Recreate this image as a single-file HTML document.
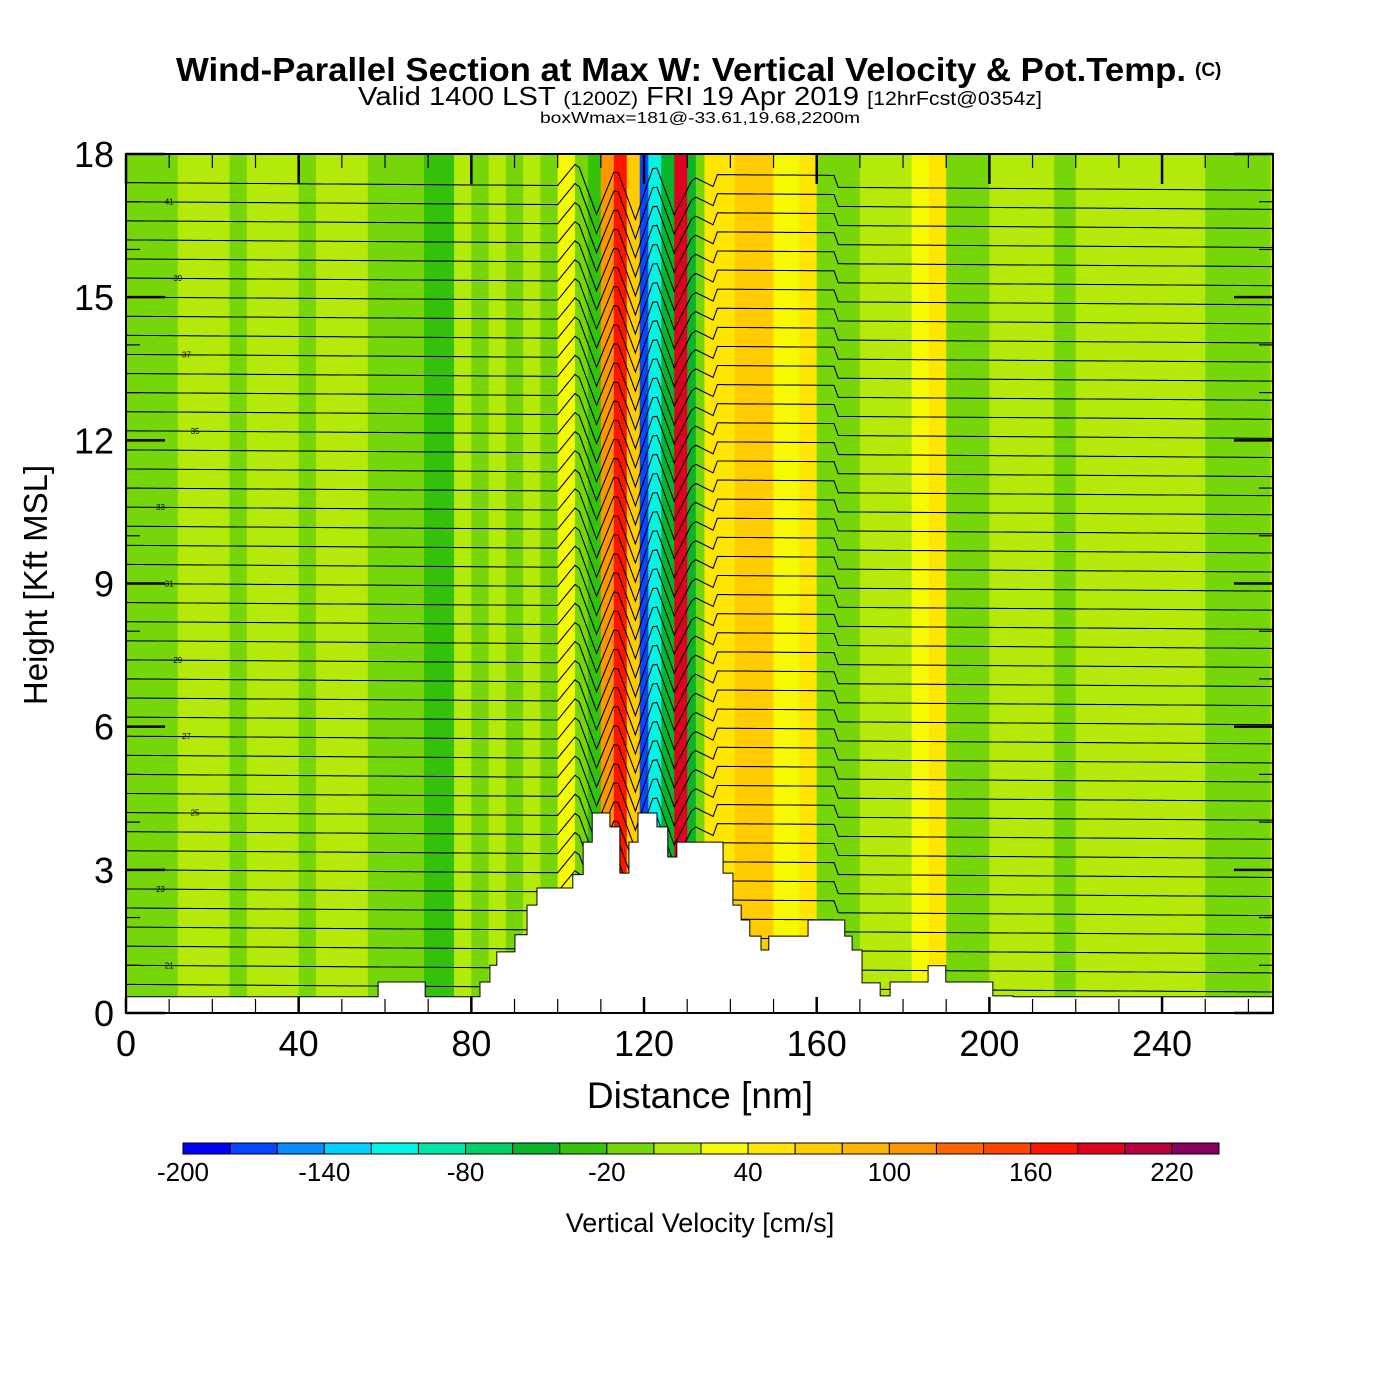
<!DOCTYPE html>
<html><head><meta charset="utf-8"><style>
body{margin:0;background:#fff;width:1400px;height:1400px;overflow:hidden}
svg{display:block}
text{font-family:"Liberation Sans",sans-serif;fill:#000}
</style></head><body>
<svg id="chart" width="1400" height="1400" xmlns="http://www.w3.org/2000/svg">
<text x="176" y="81" textLength="1010" lengthAdjust="spacingAndGlyphs" font-size="33" font-weight="bold">Wind-Parallel Section at Max W: Vertical Velocity &amp; Pot.Temp.</text>
<text x="1195" y="76" font-size="19" font-weight="bold">(C)</text>
<text x="358" y="105" textLength="684" lengthAdjust="spacingAndGlyphs" font-size="26">Valid 1400 LST <tspan font-size="19">(1200Z)</tspan> FRI 19 Apr 2019 <tspan font-size="19">[12hrFcst@0354z]</tspan></text>
<text x="540" y="123" textLength="320" lengthAdjust="spacingAndGlyphs" font-size="16">boxWmax=181@-33.61,19.68,2200m</text>
<defs><clipPath id="plotclip"><rect x="126" y="154" width="1147" height="859"/></clipPath></defs>
<g id="field" clip-path="url(#plotclip)"></g>
<g id="isen" clip-path="url(#plotclip)"></g>
<g id="terrain" clip-path="url(#plotclip)"></g>
<g id="axes"></g>
<g id="cbar"></g>
<text x="700" y="1108" text-anchor="middle" font-size="37">Distance [nm]</text>
<text transform="translate(47,585) rotate(-90)" text-anchor="middle" font-size="33">Height [Kft MSL]</text>
<text x="700" y="1232" text-anchor="middle" font-size="27">Vertical Velocity [cm/s]</text>
</svg>
<script>
// ---- data ----
const bandStart = [0,12,24,28,40,44,56,66,69,76,80,84,88,92,96,100,104,107,110,113,116,119,121,124,127,130,132,134,137,141,145,150,156,160,170,182,186,190,195,200,215,220,240,250,265];
const bandW     = [-5,5,-5,5,-5,5,-5,-5,-25,5,-5,5,-15,5,-5,25,-15,-30,110,170,60,-170,-110,-60,190,-50,-20,40,50,70,60,30,40,-5,5,30,50,-10,-20,5,-5,5,5,-5];
const terrainX = [0,58.4,69.3,82.0,84.3,85.9,90.1,92.9,95.2,97.3,103.5,105.9,108.0,112.1,114.4,116.5,118.6,123.0,125.5,127.6,138.3,140.6,142.5,144.5,147.1,148.9,158.0,166.5,168.2,170.5,174.7,177.0,185.8,189.9,200.8,205.5];
const terrainH = [0.34,0.65,0.34,0.65,1.0,1.28,1.64,2.26,2.62,2.62,2.9,3.58,4.19,3.9,2.93,3.58,4.19,3.9,3.27,3.58,2.93,2.26,1.95,1.61,1.32,1.61,1.95,1.61,1.32,0.63,0.36,0.65,0.99,0.65,0.36,0.34];
const thetaLevels = [];
const thetaHeights = [];
for(let k=0;k<43;k++){thetaLevels.push(20+k*0.5);thetaHeights.push(0.6+k*0.4);}
const cbarTicks = [-200,-140,-80,-20,40,100,160,220];
const colors = ["#0000ff","#0a45ff","#0a8cff","#00d0ff","#00f5e5","#00e6a8","#00d068","#08b428","#34c20a","#76d60a","#b4ea0a","#f5fa00","#ffe600","#ffcc00","#ffb400","#ff9600","#ff6400","#ff4600","#ff1400","#e00020","#b80040","#880060"];
// ---- axes ----
const X0=126,X1=1273,Y0=1013,Y1=154;
const xs = d => X0 + d*(X1-X0)/265.7;
const ys = h => Y0 - h*(Y0-Y1)/18;
const col = v => colors[Math.max(0,Math.min(21,Math.floor((v+200)/20)))];
const NS="http://www.w3.org/2000/svg";
function mk(tag, parent, attrs){const e=document.createElementNS(NS,tag);for(const k in attrs)e.setAttribute(k,attrs[k]);parent.appendChild(e);return e;}
const field=document.getElementById('field');
mk('rect',field,{x:X0,y:Y1,width:X1-X0,height:Y0-Y1,fill:col(5)});
for(let i=0;i<bandW.length;i++){
  const r=mk('rect',field,{x:xs(bandStart[i]),y:Y1,width:xs(bandStart[i+1])-xs(bandStart[i])+0.5,height:Y0-Y1,fill:col(bandW[i])});
  
  
}
// isentropes
const isen=document.getElementById('isen');
function pert(d){
  let p=0;
  if(d>100&&d<136){
    const t=(d-100)/36;
    const zig=[0,0.5,-0.6,0.4,-0.7,0.5,-0.6,0.2,0];
    const f=t*8,i=Math.floor(f),fr=f-i;
    p=zig[i]+(zig[Math.min(8,i+1)]-zig[i])*fr;
  }
  if(d>136&&d<165) p+=0.25;
  return p;
}
thetaLevels.forEach((th,j)=>{
  let pts=[];
  for(let d=0;d<=266;d+=1){
    const h=thetaHeights[j]+pert(d)-0.0006*d;
    pts.push(xs(d).toFixed(1)+','+ys(h).toFixed(1));
  }
  const pl=mk('polyline',isen,{points:pts.join(' '),fill:'none',stroke:'#000','stroke-width':1.1});
  
  
  if(j%4===1){
    const lx=xs(8+(j%5)*2), ly=ys(thetaHeights[j]);
    const lb=mk('text',isen,{x:lx,y:ly+3,'font-size':8,'text-anchor':'middle'});
    lb.textContent=String(Math.round(th));
    
    
  }
});
// terrain
const ter=document.getElementById('terrain');
let tp=[xs(0)+','+Y0];
for(let i=0;i<terrainX.length;i++){
  const x2=i+1<terrainX.length?terrainX[i+1]:266;
  tp.push(xs(terrainX[i])+','+ys(terrainH[i]));
  tp.push(xs(x2)+','+ys(terrainH[i]));
}
tp.push(xs(266)+','+Y0);
const tpoly=mk('polygon',ter,{points:tp.join(' '),fill:'#fff',stroke:'#000','stroke-width':1});


// axes frame & ticks
const ax=document.getElementById('axes');
const fr=mk('rect',ax,{x:X0,y:Y1,width:X1-X0,height:Y0-Y1,fill:'none',stroke:'#000','stroke-width':2});


for(let d=0;d<=265;d+=10){
  const big=d%40===0, L=big?16:14;
  mk('line',ax,{x1:xs(d),x2:xs(d),y1:Y0,y2:Y0-L,stroke:'#000','stroke-width':big?2.5:1.2});
  mk('line',ax,{x1:xs(d),x2:xs(d),y1:Y1,y2:Y1+(big?30:14),stroke:'#000','stroke-width':big?2.5:1.2});
  if(big){const t=mk('text',ax,{x:xs(d),y:1056,'font-size':36,'text-anchor':'middle'});t.textContent=d;
    
    }
}
for(let h=0;h<=18;h+=1){
  const big=h%3===0;
  mk('line',ax,{x1:X0,x2:X0+(big?39:14),y1:ys(h),y2:ys(h),stroke:'#000','stroke-width':big?2.5:1.2});
  mk('line',ax,{x1:X1,x2:X1-(big?39:14),y1:ys(h),y2:ys(h),stroke:'#000','stroke-width':big?2.5:1.2});
  if(big){const t=mk('text',ax,{x:114,y:ys(h)+13,'font-size':36,'text-anchor':'end'});t.textContent=h;
    
    }
}
// colorbar
const cb=document.getElementById('cbar');
const CX0=183,CW=(1219-183)/22;
colors.forEach((c,i)=>{
  const r=mk('rect',cb,{x:CX0+i*CW,y:1143,width:CW,height:11,fill:c,stroke:'#000','stroke-width':1});
  
  
});
cbarTicks.forEach(v=>{
  const t=mk('text',cb,{x:CX0+(v+200)/20*CW,y:1181,'font-size':26,'text-anchor':'middle'});
  t.textContent=v;
  
  
});
</script>
</body></html>
